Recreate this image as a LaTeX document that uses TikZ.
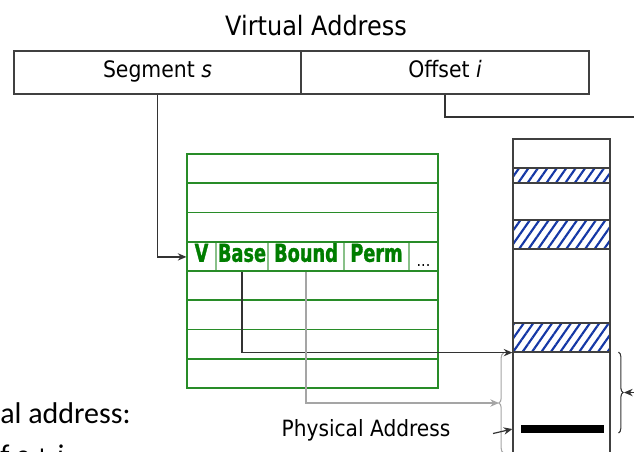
\documentclass[tikz,border=0pt]{standalone}
\usepackage{fontspec}
\usepackage{tikz}
\usetikzlibrary{calc,positioning,arrows.meta,decorations.pathreplacing,patterns.meta}

\newfontfamily\labelfont[FakeStretch=0.9]{DejaVu Sans}
\newfontfamily\fieldfont[FakeStretch=0.72,BoldFeatures={FakeBold=1.2}]{DejaVu Sans}
\newfontfamily\notefont{Carlito}

\definecolor{tabgreen}{RGB}{40,140,40}
\definecolor{labgreen}{RGB}{0,125,0}
\definecolor{hatchblue}{RGB}{20,55,165}
\definecolor{linkgray}{RGB}{165,165,165}

\tikzset{
	field/.style={draw=black!75,line width=0.9pt,inner sep=0pt,minimum height=32.25pt,
		text height=0.75em,text depth=0pt,font=\labelfont\fontsize{17}{19}\selectfont},
	slot/.style={draw=tabgreen,line width=1.4pt,minimum width=188.25pt,minimum height=21.94pt,inner sep=0pt},
	cell/.style={draw=tabgreen!55,line width=0.8pt,minimum height=21.94pt,inner sep=0pt,
		text height=0.73em,text depth=0pt,text=labgreen,font=\fieldfont\bfseries\fontsize{18.5}{20}\selectfont},
	memband/.style={draw=black!75,line width=0.9pt,minimum width=72.75pt,inner sep=0pt,
		pattern={Lines[angle=55,distance=5.8pt,line width=1.6pt]},pattern color=hatchblue},
	link/.style={line width=0.9pt,black!80},
}

\begin{document}
\begin{tikzpicture}[x=0.75pt,y=-0.75pt,>={Stealth[length=6.5pt,width=5.5pt]}]
	\useasboundingbox (0,0) rectangle (634,451);
	
	% virtual address: segment number and offset
	\node[anchor=base,font=\labelfont\fontsize{20}{22}\selectfont] (vatitle) at (316,35) {Virtual Address};
	\node[field,minimum width=215.25pt] (seg) at (157.5,72.5) {Segment \textit{s}};
	\node[field,minimum width=216pt] (off) at (445,72.5) {Offset \textit{i}};
	
	% segment table
	\node[cell,minimum width=21.75pt] (cv) at (201.5,256.9) {V};
	\node[cell,minimum width=39pt] (cbase) at (242,256.9) {Base};
	\node[cell,minimum width=57pt] (cbound) at (306,256.9) {Bound};
	\node[cell,minimum width=48.75pt] (cperm) at (376.5,256.9) {Perm};
	\node[cell,minimum width=21.75pt,text=black,font=\labelfont\fontsize{12}{14}\selectfont,text height=15pt] (cmore) at (423.5,256.9) {...};
	\foreach \r in {1,...,8}
		\node[slot] (row\r) at (312.5,{154+(\r-0.5)*29.25}) {};
	
	% physical memory
	\node[draw=black!75,line width=0.9pt,minimum width=72.75pt,minimum height=248.25pt,inner sep=0pt] (mem) at (561.5,304.5) {};
	\node[memband,minimum height=11.25pt] (hatch1) at (561.5,175.5) {};
	\node[memband,minimum height=21.75pt] (hatch2) at (561.5,234.5) {};
	\node[memband,minimum height=21.75pt] (hatch3) at (561.5,337.5) {};
	\node[fill=black,minimum width=62.25pt,minimum height=6pt,inner sep=0pt] (bar) at (562.5,429) {};
	
	% braces beside the segment in memory
	\draw[linkgray,line width=0.8pt,decorate,decoration={brace,amplitude=3.5pt}] (503.5,453) -- (503.5,353);
	\draw[black!80,line width=0.8pt,decorate,decoration={brace,amplitude=3.5pt}] (618.5,352) -- (618.5,433);
	
	\coordinate (offend) at (640,117);
	\coordinate (limtip) at (499,403);
	\coordinate (lenin) at (640,392.5);
	\coordinate (lentip) at (624,392.5);
	\coordinate (pastart) at (493,433.5);
	
	% connectors
	\draw[link] (off.south) |- (offend);
	\draw[link,->] (seg.south) |- (cv.west);
	\draw[link,->] (cbase.south) |- (hatch3.south west);
	\draw[linkgray,line width=0.9pt,->] (cbound.south) |- (limtip);
	\draw[link,->] (lenin) -- (lentip);
	
	\node[anchor=base,font=\labelfont\fontsize{16.8}{19}\selectfont] (paddr) at (366,436) {Physical Address};
	\draw[link,->] (pastart) -- (mem.west |- bar.center);
	
	% note at the left edge
	\node[anchor=base west,inner sep=0pt,font=\notefont\fontsize{22.5}{27}\selectfont] (note1) at (0,423) {al address:};
	\node[anchor=base west,inner sep=0pt,font=\notefont\fontsize{22.5}{27}\selectfont] (note2) at (0,465) {f \textit{s} + \textit{i}};
\end{tikzpicture}
\end{document}
